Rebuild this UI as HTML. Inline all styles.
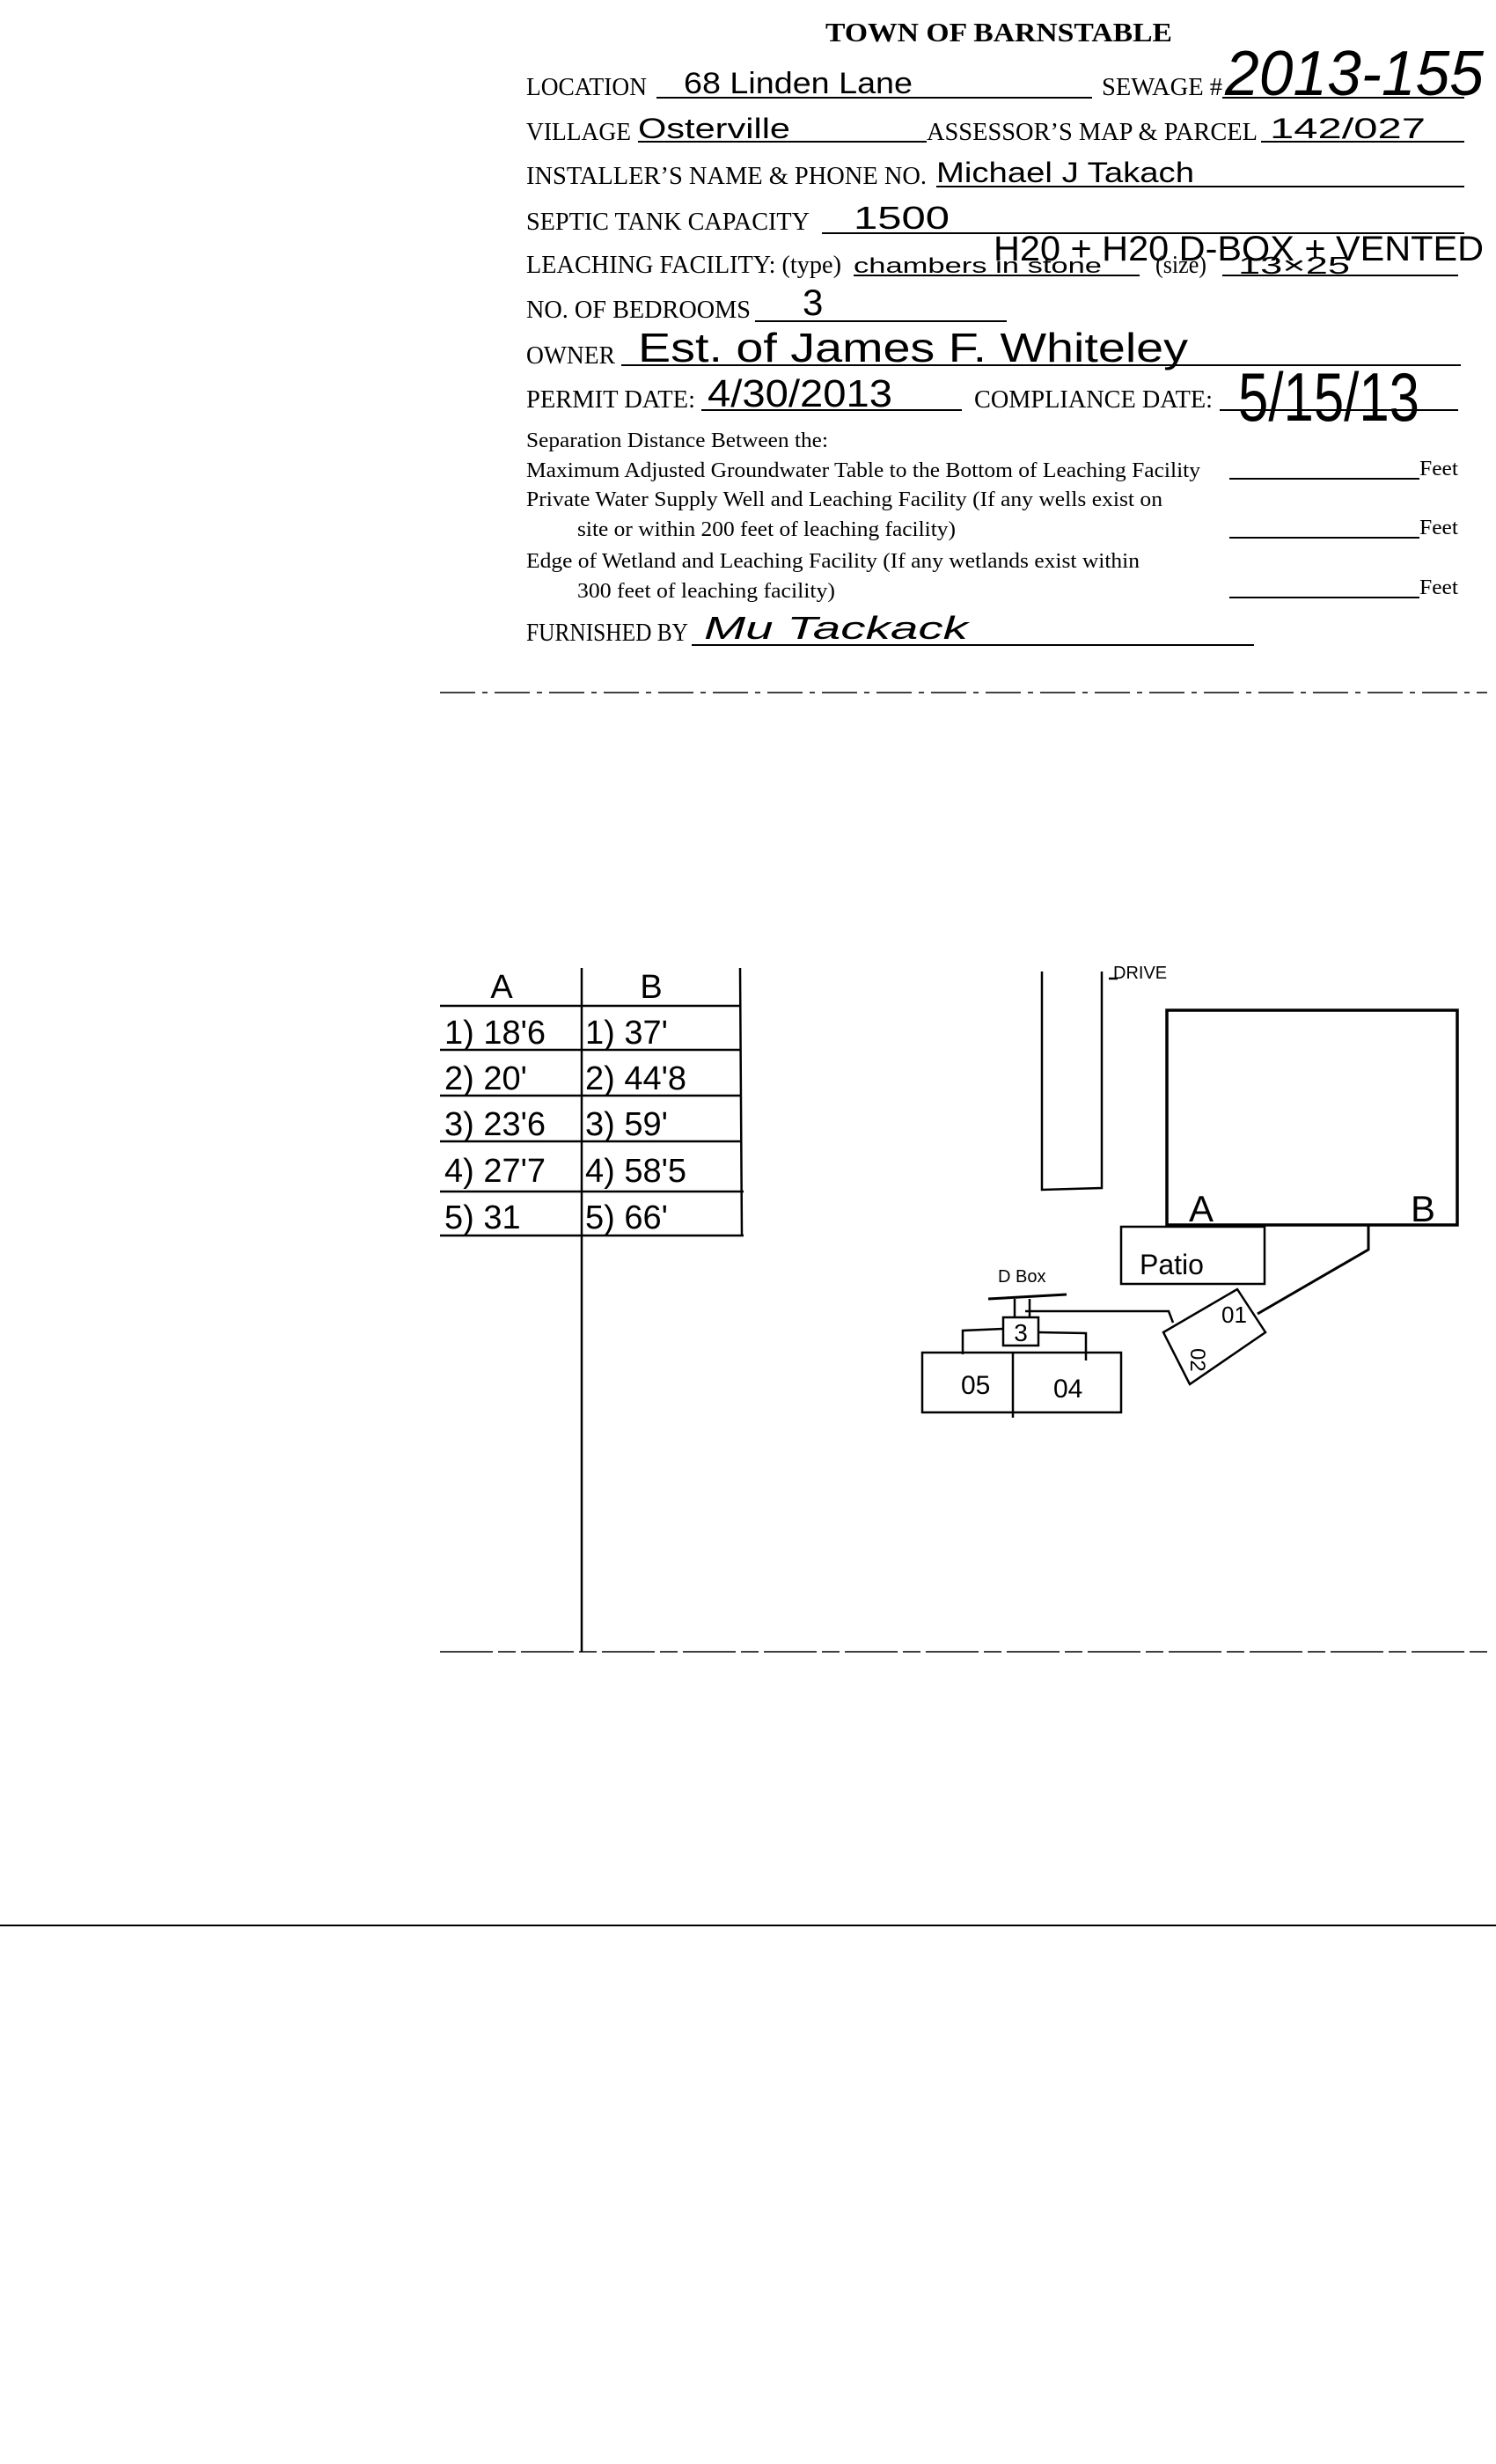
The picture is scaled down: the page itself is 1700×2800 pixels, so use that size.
<!DOCTYPE html>
<html><head><meta charset="utf-8"><style>
html,body{margin:0;padding:0;background:#fff;}
svg{display:block}
.l{font-family:"Liberation Serif",serif;font-size:28px;fill:#000}
.s{font-family:"Liberation Serif",serif;font-size:24px;fill:#000}
.h{font-family:"Liberation Sans",sans-serif;fill:#000;font-weight:normal}
</style></head><body>
<svg width="1700" height="2800" viewBox="0 0 1700 2800" xmlns="http://www.w3.org/2000/svg">
<rect width="1700" height="2800" fill="#fff"/>
<g stroke="#000" stroke-width="2" fill="none">
<!-- form underlines -->
<line x1="746" y1="111" x2="1241" y2="111"/>
<line x1="1389" y1="111" x2="1664" y2="111"/>
<line x1="725" y1="161" x2="1053" y2="161"/>
<line x1="1433" y1="161" x2="1664" y2="161"/>
<line x1="1064" y1="212" x2="1664" y2="212"/>
<line x1="934" y1="265" x2="1664" y2="265"/>
<line x1="970" y1="313" x2="1295" y2="313"/>
<line x1="1389" y1="313" x2="1657" y2="313"/>
<line x1="858" y1="365" x2="1144" y2="365"/>
<line x1="706" y1="415" x2="1660" y2="415"/>
<line x1="797" y1="466" x2="1093" y2="466"/>
<line x1="1386" y1="466" x2="1657" y2="466"/>
<line x1="1397" y1="544" x2="1613" y2="544"/>
<line x1="1397" y1="611" x2="1613" y2="611"/>
<line x1="1397" y1="679" x2="1613" y2="679"/>
<line x1="786" y1="733" x2="1425" y2="733"/>
<line x1="500" y1="787" x2="1690" y2="787" stroke-dasharray="40 8 6 8" stroke-width="1.5"/>
</g>
<text class="l" x="1135" y="47" text-anchor="middle" font-weight="bold" textLength="394" lengthAdjust="spacingAndGlyphs" style="font-size:31px">TOWN OF BARNSTABLE</text>
<text class="l" x="598" y="108" textLength="137" lengthAdjust="spacingAndGlyphs">LOCATION</text>
<text class="l" x="1252" y="108" textLength="137" lengthAdjust="spacingAndGlyphs">SEWAGE #</text>
<text class="l" x="598" y="159" textLength="119" lengthAdjust="spacingAndGlyphs">VILLAGE</text>
<text class="l" x="1053" y="159" textLength="376" lengthAdjust="spacingAndGlyphs">ASSESSOR’S MAP &amp; PARCEL</text>
<text class="l" x="598" y="209" textLength="455" lengthAdjust="spacingAndGlyphs">INSTALLER’S NAME &amp; PHONE NO.</text>
<text class="l" x="598" y="261" textLength="322" lengthAdjust="spacingAndGlyphs">SEPTIC TANK CAPACITY</text>
<text class="l" x="598" y="310" textLength="358" lengthAdjust="spacingAndGlyphs">LEACHING FACILITY: (type)</text>
<text class="l" x="1313" y="310" textLength="58" lengthAdjust="spacingAndGlyphs">(size)</text>
<text class="l" x="598" y="361" textLength="255" lengthAdjust="spacingAndGlyphs">NO. OF BEDROOMS</text>
<text class="l" x="598" y="413" textLength="101" lengthAdjust="spacingAndGlyphs">OWNER</text>
<text class="l" x="598" y="463" textLength="192" lengthAdjust="spacingAndGlyphs">PERMIT DATE:</text>
<text class="l" x="1107" y="463" textLength="271" lengthAdjust="spacingAndGlyphs">COMPLIANCE DATE:</text>
<text class="s" x="598" y="508" textLength="343" lengthAdjust="spacingAndGlyphs">Separation Distance Between the:</text>
<text class="s" x="598" y="542" textLength="766" lengthAdjust="spacingAndGlyphs">Maximum Adjusted Groundwater Table to the Bottom of Leaching Facility</text>
<text class="s" x="1613" y="540" textLength="44" lengthAdjust="spacingAndGlyphs">Feet</text>
<text class="s" x="598" y="575" textLength="723" lengthAdjust="spacingAndGlyphs">Private Water Supply Well and Leaching Facility (If any wells exist on</text>
<text class="s" x="656" y="609" textLength="430" lengthAdjust="spacingAndGlyphs">site or within 200 feet of leaching facility)</text>
<text class="s" x="1613" y="607" textLength="44" lengthAdjust="spacingAndGlyphs">Feet</text>
<text class="s" x="598" y="645" textLength="697" lengthAdjust="spacingAndGlyphs">Edge of Wetland and Leaching Facility (If any wetlands exist within</text>
<text class="s" x="656" y="679" textLength="293" lengthAdjust="spacingAndGlyphs">300 feet of leaching facility)</text>
<text class="s" x="1613" y="675" textLength="44" lengthAdjust="spacingAndGlyphs">Feet</text>
<text class="l" x="598" y="728" textLength="184" lengthAdjust="spacingAndGlyphs">FURNISHED BY</text>
<!-- handwriting -->
<g class="h">
<text x="777" y="106" font-size="34" textLength="260" lengthAdjust="spacingAndGlyphs">68 Linden Lane</text>
<text x="1392" y="108" font-size="72" textLength="294" lengthAdjust="spacingAndGlyphs" font-style="italic">2013-155</text>
<text x="725" y="157" font-size="32" textLength="173" lengthAdjust="spacingAndGlyphs">Osterville</text>
<text x="1443" y="157" font-size="32" textLength="177" lengthAdjust="spacingAndGlyphs">142/027</text>
<text x="1064" y="207" font-size="32" textLength="293" lengthAdjust="spacingAndGlyphs">Michael J Takach</text>
<text x="970" y="260" font-size="36" textLength="109" lengthAdjust="spacingAndGlyphs">1500</text>
<text x="970" y="310" font-size="24" textLength="282" lengthAdjust="spacingAndGlyphs">chambers in stone</text>
<text x="1129" y="296" font-size="40" textLength="557" lengthAdjust="spacingAndGlyphs">H20 + H20 D-BOX + VENTED</text>
<text x="1407" y="311" font-size="28" textLength="127" lengthAdjust="spacingAndGlyphs">13×25</text>
<text x="912" y="358" font-size="42">3</text>
<text x="725" y="411" font-size="46" textLength="625" lengthAdjust="spacingAndGlyphs">Est. of James F. Whiteley</text>
<text x="804" y="462" font-size="44" textLength="210" lengthAdjust="spacingAndGlyphs">4/30/2013</text>
<text x="1407" y="478" font-size="78" textLength="206" lengthAdjust="spacingAndGlyphs">5/15/13</text>
<text x="800" y="726" font-size="36" textLength="300" lengthAdjust="spacingAndGlyphs" font-style="italic">Mu   Tackack</text>
</g>
<!-- table -->
<g stroke="#000" stroke-width="2.5" fill="none">
<line x1="500" y1="1143" x2="841" y2="1143"/>
<line x1="500" y1="1193" x2="841" y2="1193"/>
<line x1="500" y1="1245" x2="841" y2="1245"/>
<line x1="500" y1="1297" x2="841" y2="1297"/>
<line x1="500" y1="1354" x2="845" y2="1354"/>
<line x1="500" y1="1404" x2="845" y2="1404"/>
<line x1="661" y1="1100" x2="661" y2="1877"/>
<line x1="841" y1="1100" x2="843" y2="1404"/>
<line x1="500" y1="1877" x2="1690" y2="1877" stroke-dasharray="60 6 20 6" stroke-width="1.5"/>
<line x1="0" y1="2188" x2="1700" y2="2188" stroke-width="2"/>
</g>
<g class="h" font-size="38">
<text x="570" y="1134" text-anchor="middle">A</text>
<text x="740" y="1134" text-anchor="middle">B</text>
<text x="505" y="1186">1) 18'6</text><text x="665" y="1186">1)  37'</text>
<text x="505" y="1238">2) 20'</text><text x="665" y="1238">2)  44'8</text>
<text x="505" y="1290">3) 23'6</text><text x="665" y="1290">3) 59'</text>
<text x="505" y="1343">4) 27'7</text><text x="665" y="1343">4) 58'5</text>
<text x="505" y="1396">5) 31</text><text x="665" y="1396">5) 66'</text>
</g>
<!-- site drawing -->
<g stroke="#000" stroke-width="2.5" fill="none">
<polyline points="1184,1104 1184,1352 1252,1350 1252,1104"/>
<line x1="1260" y1="1112" x2="1270" y2="1112"/>
<rect x="1326" y="1148" width="330" height="244" stroke-width="3.5"/>
<rect x="1274" y="1394" width="163" height="65"/>
<polyline points="1555,1392 1555,1420 1429,1493" stroke-width="3"/>
<polygon points="1322,1514 1406,1465 1438,1514 1352,1573"/>
<polyline points="1333,1503 1328,1490 1165,1490"/>
<line x1="1123" y1="1476" x2="1212" y2="1471" stroke-width="3"/>
<line x1="1153" y1="1476" x2="1153" y2="1497"/>
<line x1="1170" y1="1476" x2="1170" y2="1497"/>
<rect x="1140" y="1497" width="40" height="32"/>
<polyline points="1140,1510 1094,1512 1094,1539"/>
<polyline points="1180,1514 1234,1515 1234,1546"/>
<rect x="1048" y="1537" width="226" height="68"/>
<line x1="1151" y1="1537" x2="1151" y2="1611"/>
</g>
<g class="h">
<text x="1265" y="1112" font-size="20">DRIVE</text>
<text x="1351" y="1388" font-size="42">A</text>
<text x="1617" y="1388" font-size="42" text-anchor="middle">B</text>
<text x="1295" y="1448" font-size="32">Patio</text>
<text x="1134" y="1457" font-size="20">D Box</text>
<text x="1160" y="1524" font-size="28" text-anchor="middle">3</text>
<text x="1092" y="1584" font-size="30">05</text>
<text x="1197" y="1588" font-size="30">04</text>
<text x="1388" y="1503" font-size="26">01</text>
<text x="1350" y="1545" font-size="24" transform="rotate(90 1358 1540)">02</text>
</g>
</svg>
</body></html>
